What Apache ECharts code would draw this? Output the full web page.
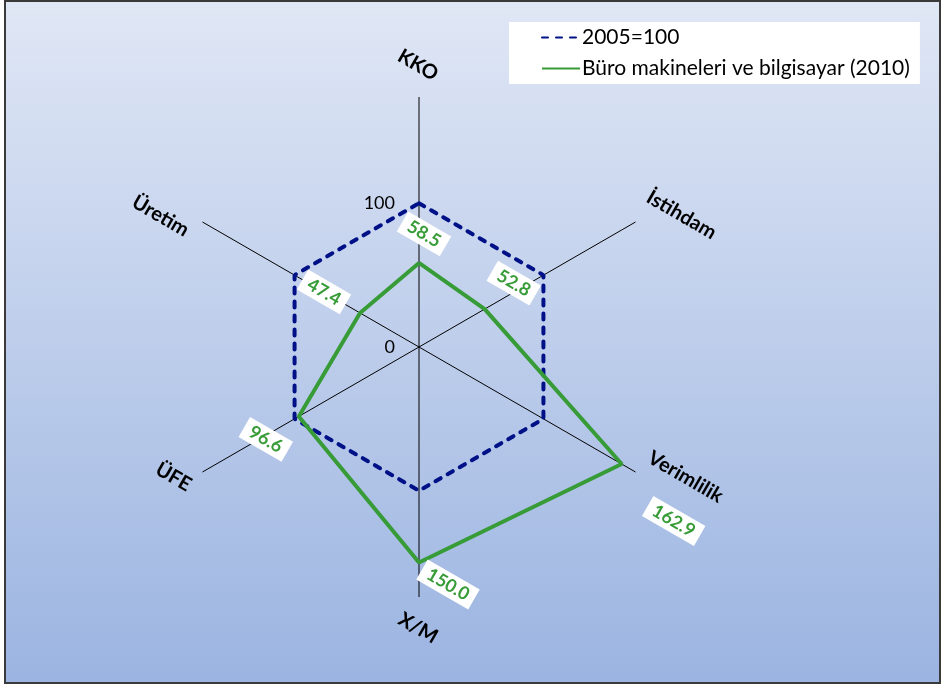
<!DOCTYPE html>
<html>
<head>
<meta charset="utf-8">
<script src="https://cdn.jsdelivr.net/npm/echarts@6/dist/echarts.min.js"></script>
<style>
html,body{margin:0;padding:0;background:#fff;}
#chart{width:945px;height:686px;}
</style>
</head>
<body>
<div id="chart"></div>
<script>
// ---- data ----
const categories = ['KKO', 'İstihdam', 'Verimlilik', 'X/M', 'ÜFE', 'Üretim'];
const baseValues = [100, 100, 100, 100, 100, 100];
const sectorValues = [58.5, 52.8, 162.9, 150.0, 96.6, 47.4];
const seriesNames = ['2005=100', 'Büro makineleri ve bilgisayar (2010)'];
const radiusTicks = [0, 100];

// ---- layout / style ----
const FONT = 'Lato, "Open Sans", sans-serif';
const CX = 419, CY = 347, R = 250;
const AXIS_MAX = 174;
const GREEN = '#379c37';
const NAVY = '#001188';
const ROT = -30; // degrees, clockwise on screen
// screen displacement of each data label from its point
const labelShift = [[5, -29], [29, -26], [52, 57], [29, 22], [-33, 23], [-36, -21]];
// screen displacement of each axis name from the end of its spoke
const nameShift = [[-1, -32], [46, -7], [50, 5], [-1, 31], [-29, 5], [-42, -6]];

function localOffset(d) {
  const a = Math.PI / 6;
  return [d[0] * Math.cos(a) + d[1] * Math.sin(a), -d[0] * Math.sin(a) + d[1] * Math.cos(a)];
}

function closedData(values, withLabels) {
  const arr = values.map((v, i) => {
    const item = { value: [v, categories[i]] };
    if (withLabels) {
      item.label = { offset: localOffset(labelShift[i]) };
    }
    return item;
  });
  arr.push({ value: [values[0], categories[0]], label: { show: false } });
  return arr;
}

const chart = echarts.init(document.getElementById('chart'));

const graphics = [{
  type: 'rect', silent: true, z: -10,
  shape: { x: 5, y: 1, width: 935, height: 682 },
  style: {
    fill: new echarts.graphic.LinearGradient(0, 0, 0, 1, [
      { offset: 0, color: '#e0e7f5' },
      { offset: 1, color: '#9bb4e1' }
    ]),
    stroke: '#3a3a3a', lineWidth: 2
  }
}];
categories.forEach((c, i) => {
  const ang = (90 - 60 * i) * Math.PI / 180;
  graphics.push({
    type: 'text', silent: true,
    x: CX + R * Math.cos(ang) + nameShift[i][0],
    y: CY - R * Math.sin(ang) + nameShift[i][1],
    rotation: ROT * Math.PI / 180,
    style: {
      text: c, fill: '#000', font: 'bold 20px ' + FONT,
      align: 'center', verticalAlign: 'middle'
    }
  });
});

chart.setOption({
  animation: false,
  graphic: graphics,
  legend: {
    orient: 'vertical',
    left: 509, top: 22,
    backgroundColor: '#fff',
    padding: [5, 10, 5, 32],
    itemWidth: 38, itemHeight: 14, itemGap: 10,
    itemStyle: { opacity: 0 },
    textStyle: { fontSize: 21, color: '#000', fontFamily: FONT, padding: [0, 0, 0, -3] },
    data: seriesNames
  },
  polar: [
    { center: [CX, CY], radius: R },
    { center: [CX, CY], radius: R }
  ],
  angleAxis: [{
    polarIndex: 0,
    type: 'category',
    data: categories,
    startAngle: 90 + 180 / categories.length,
    clockwise: true,
    boundaryGap: true,
    axisLine: { show: false },
    axisTick: { show: false, alignWithLabel: true },
    axisLabel: { show: false },
    splitLine: { show: true, lineStyle: { color: '#000', width: 1 } },
    splitArea: { show: false }
  }, {
    polarIndex: 1,
    type: 'value',
    startAngle: 90,
    min: 0, max: 360,
    axisLine: { show: false },
    axisTick: { show: false },
    axisLabel: { show: false },
    splitLine: { show: false },
    splitArea: { show: false }
  }],
  radiusAxis: [{
    polarIndex: 0,
    type: 'value',
    min: 0, max: AXIS_MAX, interval: 100,
    axisLine: { show: false },
    axisTick: { show: false },
    splitLine: { show: false },
    axisLabel: { show: false }
  }, {
    polarIndex: 1,
    type: 'value',
    min: 0, max: AXIS_MAX, interval: 100,
    axisLine: { show: false },
    axisTick: { show: false },
    splitLine: { show: false },
    axisLabel: {
      show: true, margin: 24, color: '#000', fontSize: 18, fontFamily: FONT,
      showMaxLabel: false,
      formatter: v => radiusTicks.indexOf(v) >= 0 ? String(v) : ''
    }
  }],
  series: [{
    name: seriesNames[0],
    type: 'line',
    coordinateSystem: 'polar',
    polarIndex: 0,
    clip: false,
    data: closedData(baseValues, false),
    symbol: 'none',
    lineStyle: { color: NAVY, width: 4, type: [6, 8], cap: 'round' },
    itemStyle: { color: NAVY },
    z: 2
  }, {
    name: seriesNames[1],
    type: 'line',
    coordinateSystem: 'polar',
    polarIndex: 0,
    clip: false,
    data: closedData(sectorValues, true),
    symbol: 'circle',
    symbolSize: 1,
    lineStyle: { color: GREEN, width: 4 },
    itemStyle: { color: GREEN },
    label: {
      show: true,
      position: 'inside',
      rotate: ROT,
      color: GREEN,
      fontWeight: 'bold',
      fontSize: 18,
      fontFamily: FONT,
      backgroundColor: '#fff',
      padding: [3, 7, 2, 7],
      formatter: p => p.value[0].toFixed(1)
    },
    z: 3
  }]
});
</script>
</body>
</html>
